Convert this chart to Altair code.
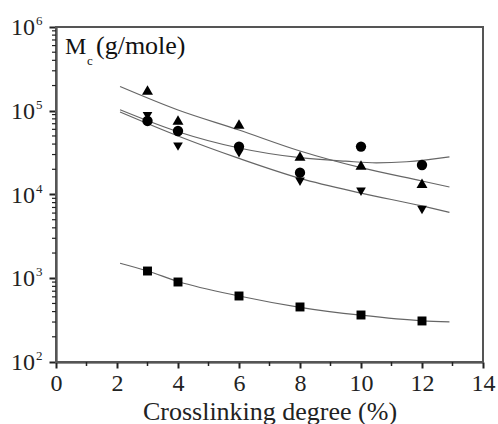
import altair as alt
import pandas as pd

FONT = "Liberation Serif, Times New Roman, DejaVu Serif, serif"

# measured points
x_vals = [3, 4, 6, 8, 10, 12]
tri_up = [177000, 77600, 69500, 28800, 22500, 13600]
circle = [75500, 57300, 37300, 18200, 37300, 22500]
tri_down = [86400, 37300, 31000, 14200, 10800, 6530]
square = [1220, 902, 614, 454, 364, 309]

# fitted curves
fit_up_x = [2.1, 4, 6, 8, 10, 12, 12.9]
fit_up_y = [194500, 102000, 58900, 33100, 20900, 14500, 12300]
fit_circ_x = [2.1, 4, 6, 8, 9.5, 10.5, 11.5, 12.9]
fit_circ_y = [102800, 56200, 35900, 27500, 25000, 23900, 24600, 28200]
fit_down_x = [2.1, 4, 6, 8, 10, 12, 12.9]
fit_down_y = [96700, 50000, 27000, 15600, 10400, 7300, 6120]
fit_sq_x = [2.1, 3, 4, 6, 8, 10, 12, 12.9]
fit_sq_y = [1510, 1220, 915, 614, 450, 362, 310, 301]

series = ["up", "circ", "down", "sq"]
shapes = ["triangle-up", "circle", "triangle-down", "square"]
sizes = [120, 80, 120, 70]

x_major = [0, 2, 4, 6, 8, 10, 12, 14]
x_minor = [1, 3, 5, 7, 9, 11, 13]
y_decades = [100, 1000, 10000, 100000, 1000000]
y_exps = ["2", "3", "4", "5", "6"]
minor_mult = [2, 3, 4, 5, 6, 7, 8, 9]
y_minor = [m * d for d in y_decades[:-1] for m in minor_mult]

pts = pd.DataFrame({
    "x": x_vals * 4,
    "y": tri_up + circle + tri_down + square,
    "s": sum([[s] * len(x_vals) for s in series], []),
})
fits = pd.DataFrame({
    "x": fit_up_x + fit_circ_x + fit_down_x + fit_sq_x,
    "y": fit_up_y + fit_circ_y + fit_down_y + fit_sq_y,
    "s": ["up"] * len(fit_up_x) + ["circ"] * len(fit_circ_x)
         + ["down"] * len(fit_down_x) + ["sq"] * len(fit_sq_x),
})

xscale = alt.Scale(domain=[0, 14], nice=False)
yscale = alt.Scale(type="log", domain=[100, 1000000], nice=False)

xenc = alt.X("x:Q", scale=xscale, axis=alt.Axis(
    values=x_major, grid=False, labelFont=FONT, labelFontSize=24, labelColor="#222",
    labelFlush=False, tickSize=6, tickWidth=2, tickColor="#222", domainWidth=2,
    domainColor="#222", labelPadding=3, title="Crosslinking degree (%)",
    titleFont=FONT, titleFontSize=26, titleFontWeight="normal", titleColor="#222",
    titleBaseline="alphabetic", titleY=57))
yenc = alt.Y("y:Q", scale=yscale, axis=alt.Axis(
    values=y_decades, grid=False, labels=False, tickSize=7, tickWidth=2,
    tickColor="#222", domainWidth=2, domainColor="#222", title=None))

one = pd.DataFrame({"a": [0]})

frame = alt.Chart(one).mark_rect(fillOpacity=0, strokeWidth=2).encode(
    x=alt.value(0), x2=alt.value(427), y=alt.value(0), y2=alt.value(335),
    stroke=alt.value("#555"))

lines = alt.Chart(fits).mark_line(strokeWidth=1.2, interpolate="monotone").encode(
    x=xenc, y=yenc, detail="s:N", color=alt.value("#666"))

markers = alt.Chart(pts).mark_point(filled=True, opacity=1).encode(
    x=alt.X("x:Q", scale=xscale),
    y=alt.Y("y:Q", scale=yscale),
    color=alt.value("black"),
    shape=alt.Shape("s:N", scale=alt.Scale(domain=series, range=shapes), legend=None),
    size=alt.Size("s:N", scale=alt.Scale(domain=series, range=sizes), legend=None),
)

xminor = alt.Chart(pd.DataFrame({"x": x_minor})).mark_rule(strokeWidth=1.5).encode(
    x=alt.X("x:Q", scale=xscale), y=alt.value(335), y2=alt.value(339), color=alt.value("#222"))
yminor = alt.Chart(pd.DataFrame({"y": y_minor})).mark_rule(strokeWidth=1.2).encode(
    y=alt.Y("y:Q", scale=yscale), x=alt.value(-4), x2=alt.value(0), color=alt.value("#222"))

lab_df = pd.DataFrame({"y": y_decades, "e": y_exps})
ten = alt.Chart(lab_df).mark_text(font=FONT, fontSize=24, align="right", baseline="middle",
                                  dy=1).encode(
    y=alt.Y("y:Q", scale=yscale), x=alt.value(-21), text=alt.value("10"), color=alt.value("#222"))
exps = alt.Chart(lab_df).mark_text(font=FONT, fontSize=13, align="left", baseline="middle",
                                   dy=-6).encode(
    y=alt.Y("y:Q", scale=yscale), x=alt.value(-20), text="e:N", color=alt.value("#222"))

mtxt = alt.Chart(one).mark_text(font=FONT, fontSize=24, align="left", baseline="alphabetic").encode(
    x=alt.value(9), y=alt.value(27), text=alt.value("M"), color=alt.value("#111"))
ctxt = alt.Chart(one).mark_text(font=FONT, fontSize=13, align="left", baseline="alphabetic").encode(
    x=alt.value(31), y=alt.value(38), text=alt.value("c"), color=alt.value("#111"))
gtxt = alt.Chart(one).mark_text(font=FONT, fontSize=26, align="left", baseline="alphabetic").encode(
    x=alt.value(40), y=alt.value(27), text=alt.value("(g/mole)"), color=alt.value("#111"))

chart = alt.layer(frame, lines, markers, xminor, yminor,
                  ten, exps, mtxt, ctxt, gtxt).properties(
    width=427, height=335,
    autosize=alt.AutoSizeParams(type="none"),
    padding={"left": 56, "top": 27, "right": 15, "bottom": 62},
    background="white",
).configure_view(stroke="#555", strokeWidth=2)

chart.save("out.html", embed_options={"renderer": "svg", "actions": False})
